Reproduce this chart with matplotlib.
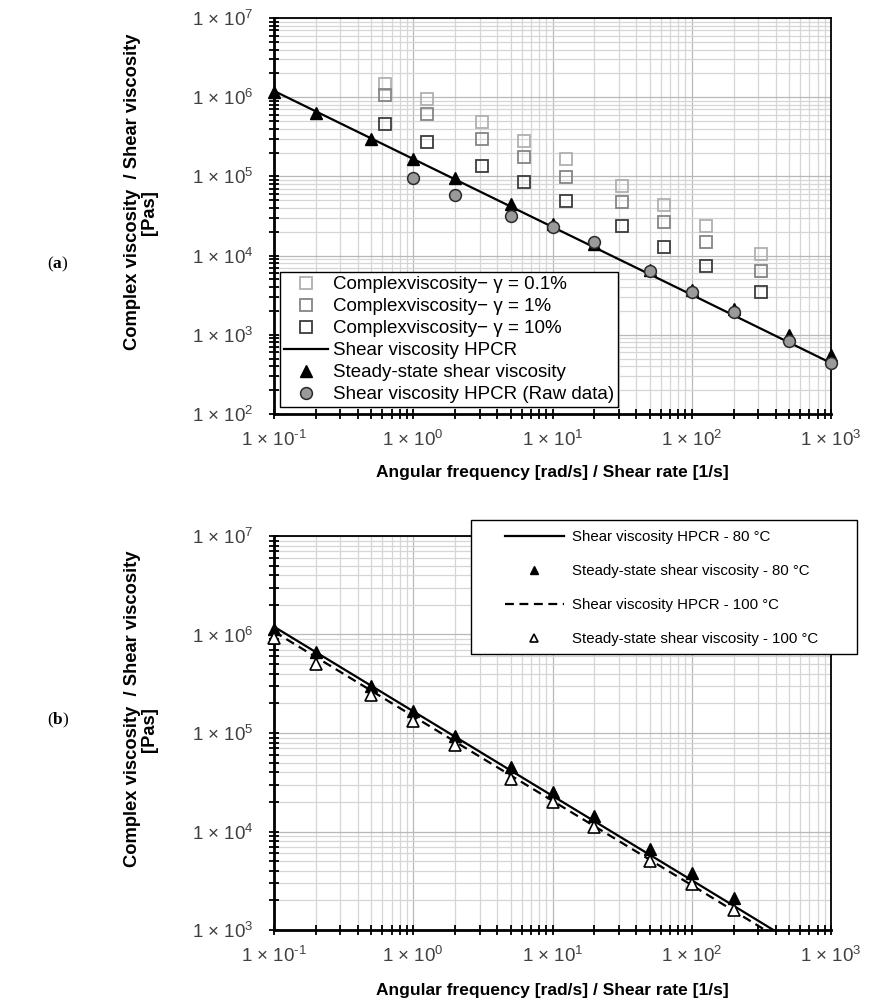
import matplotlib as mpl
mpl.use('Agg')
import matplotlib.pyplot as plt
import matplotlib.ticker as mticker
from matplotlib.patches import Rectangle
import numpy as np

plt.rcParams['font.family'] = ['Liberation Sans', 'DejaVu Sans']
plt.rcParams['mathtext.fontset'] = 'custom'
plt.rcParams['mathtext.rm'] = 'Liberation Sans'
plt.rcParams['mathtext.bf'] = 'Liberation Serif:bold'
plt.rcParams['mathtext.default'] = 'regular'

# ---- data ----
# steady-state shear viscosity (80 °C)
rate_ss = [0.1, 0.2, 0.5, 1, 2, 5, 10, 20, 50, 100, 200, 500, 1000]
visc_ss_80 = [1.15e6, 6.4e5, 3.0e5, 1.65e5, 9.5e4, 4.5e4, 2.5e4, 1.4e4,
              6.6e3, 3.7e3, 2.1e3, 1.0e3, 5.6e2]

# HPCR raw data (panel a)
rate_raw = [1, 2, 5, 10, 20, 50, 100, 200, 500, 1000]
visc_raw = [9.5e4, 5.8e4, 3.2e4, 2.3e4, 1.5e4, 6.4e3, 3.5e3, 1.95e3, 8.3e2, 4.4e2]

# HPCR fitted lines
rate_fit = [0.1, 1, 10, 100, 1000]
visc_fit_80 = [1.2e6, 1.66e5, 2.3e4, 3.2e3, 4.4e2]
visc_fit_100 = [1.07e6, 1.48e5, 2.05e4, 2.85e3, 3.9e2]

# complex viscosity, frequency sweeps at three strains
omega = [0.628, 1.256, 3.14, 6.28, 12.56, 31.4, 62.8, 125.6, 314]
cv_01 = [1.47e6, 9.5e5, 4.8e5, 2.8e5, 1.66e5, 7.6e4, 4.3e4, 2.35e4, 1.05e4]
cv_1 = [1.06e6, 6.2e5, 2.95e5, 1.76e5, 9.8e4, 4.8e4, 2.65e4, 1.48e4, 6.4e3]
cv_10 = [4.6e5, 2.7e5, 1.35e5, 8.5e4, 4.9e4, 2.35e4, 1.3e4, 7.4e3, 3.5e3]

# steady-state (panel b)
rate_b = [0.1, 0.2, 0.5, 1, 2, 5, 10, 20, 50, 100, 200]
visc_b_80 = [1.14e6, 6.6e5, 3.0e5, 1.67e5, 9.3e4, 4.5e4, 2.5e4, 1.43e4, 6.6e3, 3.8e3, 2.1e3]
visc_b_100 = [9.2e5, 5.0e5, 2.43e5, 1.32e5, 7.6e4, 3.4e4, 2.0e4, 1.1e4, 5.0e3, 2.9e3, 1.6e3]

W, H = 878, 1005
fig = plt.figure(figsize=(W / 100, H / 100), dpi=100)

def fx(px):
    return px / W

def fy(py):
    return 1 - py / H

ax1 = fig.add_axes([fx(274), fy(414), fx(831) - fx(274), fy(18) - fy(414)])
ax2 = fig.add_axes([fx(274), fy(930), fx(831) - fx(274), fy(536) - fy(930)])

def sci(v, pos):
    e = int(round(np.log10(v)))
    return '1 × 10$^{\\text{%d}}$' % e

def style(ax, ylo):
    ax.set_xscale('log')
    ax.set_yscale('log')
    ax.set_xlim(0.1, 1000)
    ax.set_ylim(ylo, 1e7)
    ax.xaxis.set_major_locator(mticker.LogLocator(base=10, numticks=20))
    ax.yaxis.set_major_locator(mticker.LogLocator(base=10, numticks=20))
    ax.xaxis.set_minor_locator(mticker.LogLocator(base=10, subs=np.arange(2, 10), numticks=20))
    ax.yaxis.set_minor_locator(mticker.LogLocator(base=10, subs=np.arange(2, 10), numticks=20))
    ax.xaxis.set_major_formatter(mticker.FuncFormatter(sci))
    ax.yaxis.set_major_formatter(mticker.FuncFormatter(sci))
    ax.xaxis.set_minor_formatter(mticker.NullFormatter())
    ax.yaxis.set_minor_formatter(mticker.NullFormatter())
    ax.grid(which='major', color='#b8b8b8', lw=0.9)
    ax.grid(which='minor', color='#d6d6d6', lw=0.9)
    ax.set_axisbelow(True)
    ax.tick_params(which='both', direction='inout', length=7, width=1.3, color='black')
    ax.tick_params(which='major', labelsize=13.5, labelcolor='#404040')
    ax.tick_params(axis='y', which='major', pad=11)
    ax.tick_params(axis='x', which='major', pad=8)
    for s in ['left', 'bottom']:
        ax.spines[s].set_linewidth(2)
    for s in ['top', 'right']:
        ax.spines[s].set_linewidth(1.3)

style(ax1, 1e2)
style(ax2, 1e3)

# ---- panel (a) ----
sq = dict(marker='s', ls='none', ms=8, mew=1.3, mfc='none')
ax1.plot(omega, cv_01, mec='#b0b0b0', label='Complexviscosity− γ = 0.1%', **sq)
ax1.plot(omega, cv_1, mec='#858585', label='Complexviscosity− γ = 1%', **sq)
ax1.plot(omega, cv_10, mec='#3c3c3c', label='Complexviscosity− γ = 10%', **sq)
ax1.plot(rate_fit, visc_fit_80, color='black', lw=1.6, label='Shear viscosity HPCR')
ax1.plot(rate_ss, visc_ss_80, marker='^', ls='none', ms=9, color='black',
         label='Steady-state shear viscosity', clip_on=False, zorder=3)
ax1.plot(rate_raw, visc_raw, marker='o', ls='none', ms=8.5, mfc='#9a9a9a', mec='#2a2a2a',
         mew=1.1, label='Shear viscosity HPCR (Raw data)', clip_on=False, zorder=4)

leg1 = ax1.legend(loc='lower left', bbox_to_anchor=(0.011, 0.018), borderaxespad=0,
                  fontsize=13.5, handlelength=2.35, handletextpad=0.27, labelspacing=0.26,
                  borderpad=0.2, fancybox=False, framealpha=1, edgecolor='black')
leg1.get_frame().set_linewidth(1.0)

# ---- panel (b) ----
l1, = ax2.plot(rate_fit, visc_fit_80, color='black', lw=1.6)
l2, = ax2.plot(rate_b, visc_b_80, marker='^', ls='none', ms=9, color='black', clip_on=False, zorder=3)
l3, = ax2.plot(rate_fit, visc_fit_100, color='black', lw=1.6, ls=(0, (4, 2.5)))
l4, = ax2.plot(rate_b, visc_b_100, marker='^', ls='none', ms=9, mfc='white', mec='black',
               mew=1.2, clip_on=False, zorder=4)

fig.add_artist(Rectangle((fx(471), fy(654)), fx(857) - fx(471), fy(520) - fy(654),
                         transform=fig.transFigure, facecolor='white', edgecolor='black',
                         lw=1.0, zorder=4))
fig.legend([l1, l2, l3, l4],
           ['Shear viscosity HPCR - 80 °C', 'Steady-state shear viscosity - 80 °C',
            'Shear viscosity HPCR - 100 °C', 'Steady-state shear viscosity - 100 °C'],
           loc='upper left', bbox_to_anchor=(fx(505), fy(530)), borderaxespad=0, borderpad=0,
           frameon=False, fontsize=10.8, handlelength=3.9, handletextpad=0.6,
           labelspacing=1.33, markerscale=0.65)

# ---- labels ----
xlab = 'Angular frequency [rad/s] / Shear rate [1/s]'
for ytop, ybot, yx in [(18, 414, 472), (536, 930, 990)]:
    yc = (ytop + ybot) / 2
    fig.text(fx(133), fy(yc - 24), 'Complex viscosity  / Shear viscosity', rotation=90,
             ha='center', va='center', fontsize=13.2, fontweight='bold')
    fig.text(fx(150), fy(yc - 3), '[Pas]', rotation=90,
             ha='center', va='center', fontsize=13.2, fontweight='bold')
    fig.text(fx(552.5), fy(yx), xlab, ha='center', va='center', fontsize=12.5, fontweight='bold')

fig.text(fx(58), fy(264), '($\\mathbf{a}$)', ha='center', va='center', fontsize=12.5,
         family=['Liberation Serif', 'DejaVu Serif'])
fig.text(fx(58), fy(720), '($\\mathbf{b}$)', ha='center', va='center', fontsize=12.5,
         family=['Liberation Serif', 'DejaVu Serif'])

fig.savefig('out.png', dpi=100)
